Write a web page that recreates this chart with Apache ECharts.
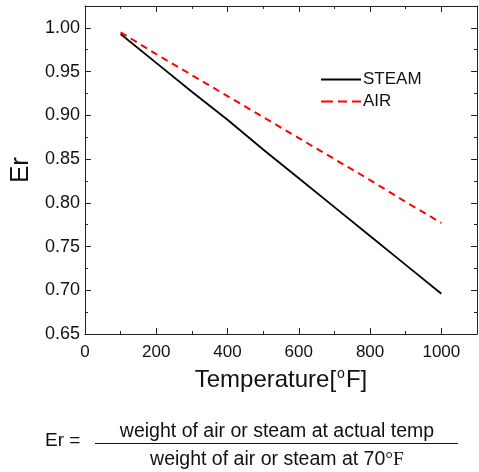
<!DOCTYPE html>
<html>
<head>
<meta charset="utf-8">
<script src="https://cdn.jsdelivr.net/npm/echarts@6/dist/echarts.min.js"></script>
<style>html,body{margin:0;padding:0;background:#fff;}#c{width:479px;height:472px;}</style>
</head>
<body>
<div id="c"></div>
<script>
var temps = [100, 200, 300, 400, 500, 600, 700, 800, 900, 1000];
var steam = [0.993, 0.960, 0.927, 0.895, 0.861, 0.828, 0.795, 0.762, 0.729, 0.696];
var air   = [0.995, 0.970, 0.946, 0.922, 0.898, 0.874, 0.850, 0.826, 0.801, 0.777];
var seriesNames = ['STEAM', 'AIR'];
var xName = 'Temperature[{sup|o}F]';
var yName = 'Er';
var numerator = 'weight of air or steam at actual temp';
var denominator = 'weight of air or steam at 70';

var FONT = 'Arial, "Liberation Sans", sans-serif';
var SERIF = '"Liberation Serif", "Times New Roman", serif';
var AX = '#222';
function pairs(xs, ys){ return xs.map(function(x,i){ return [x, ys[i]]; }); }

var chart = echarts.init(document.getElementById('c'), null, {renderer:'canvas'});
var baseX = {
  type:'value', min:0, max:1100, interval:200, minorTick:{show:true, splitNumber:2, length:3, lineStyle:{color:AX}},
  axisLine:{show:true, onZero:false, lineStyle:{color:AX, width:1}},
  axisTick:{show:true, inside:true, length:6, lineStyle:{color:AX}},
  splitLine:{show:false}
};
var baseY = {
  type:'value', min:0.65, max:1.025, interval:0.05, minorTick:{show:true, splitNumber:2, length:3, lineStyle:{color:AX}},
  axisLine:{show:true, onZero:false, lineStyle:{color:AX, width:1}},
  axisTick:{show:true, inside:true, length:6, lineStyle:{color:AX}},
  splitLine:{show:false}
};
var option = {
  animation:false,
  backgroundColor:'#fff',
  grid:{left:81, right:2, top:6, bottom:138, containLabel:false},
  legend:{
    orient:'vertical', left:316, top:66, itemWidth:40, itemHeight:2, itemGap:5,
    textStyle:{fontFamily:FONT, fontSize:17, color:'#111', padding:[0,0,0,-3], lineHeight:17},
    data:[
      {name:seriesNames[0], icon:'path://M0,0L40,0L40,2L0,2Z'},
      {name:seriesNames[1], icon:'path://M0,0h12v2h-12z M17,0h9v2h-9z M31,0h9v2h-9z'}
    ]
  },
  xAxis:[
    Object.assign({}, baseX, {position:'bottom',
      name:xName, nameLocation:'middle', nameGap:33,
      nameTextStyle:{fontFamily:FONT, fontSize:24, color:'#111',
        rich:{sup:{fontFamily:FONT, fontSize:14, color:'#111', verticalAlign:'top', padding:[0,1,12,1]}}},
      axisLabel:{show:true, fontFamily:FONT, fontSize:17, color:'#111', margin:10, showMaxLabel:false,
        formatter:function(v){ return String(v); }}}),
    Object.assign({}, baseX, {position:'top', axisLabel:{show:false}})
  ],
  yAxis:[
    Object.assign({}, baseY, {position:'left',
      name:yName, nameLocation:'middle', nameGap:44,
      nameTextStyle:{fontFamily:FONT, fontSize:26, color:'#111'},
      axisLabel:{show:true, fontFamily:FONT, fontSize:18, color:'#111', margin:5, showMaxLabel:false,
        formatter:function(v){ return v.toFixed(2); }}}),
    Object.assign({}, baseY, {position:'right', axisLabel:{show:false}})
  ],
  series:[
    {name:seriesNames[0], type:'line', xAxisIndex:0, yAxisIndex:0, data:pairs(temps, steam), symbol:'none',
      lineStyle:{color:'#000', width:1.8}, itemStyle:{color:'#000'}},
    {name:seriesNames[1], type:'line', xAxisIndex:0, yAxisIndex:0, data:pairs(temps, air), symbol:'none',
      lineStyle:{color:'#ff0000', width:2, type:[7,5]}, itemStyle:{color:'#ff0000'}}
  ],
  graphic:[
    {type:'text', x:45, y:441, style:{text:'Er =', fontFamily:FONT, fontSize:19, fill:'#111', textVerticalAlign:'middle'}},
    {type:'text', x:277, y:432, style:{text:numerator, fontFamily:FONT, fontSize:19.5, fill:'#111', textAlign:'center', textVerticalAlign:'middle'}},
    {type:'line', shape:{x1:95, y1:443.5, x2:458, y2:443.5}, style:{stroke:'#111', lineWidth:1}},
    {type:'text', x:277, y:460, style:{text:'{a|' + denominator + '}{b|\u00b0F}', textAlign:'center', textVerticalAlign:'middle',
      rich:{a:{fontFamily:FONT, fontSize:19.5, fill:'#111', color:'#111'}, b:{fontFamily:SERIF, fontSize:19.5, fill:'#111', color:'#111'}}}}
  ]
};
chart.setOption(option);
</script>
</body>
</html>
